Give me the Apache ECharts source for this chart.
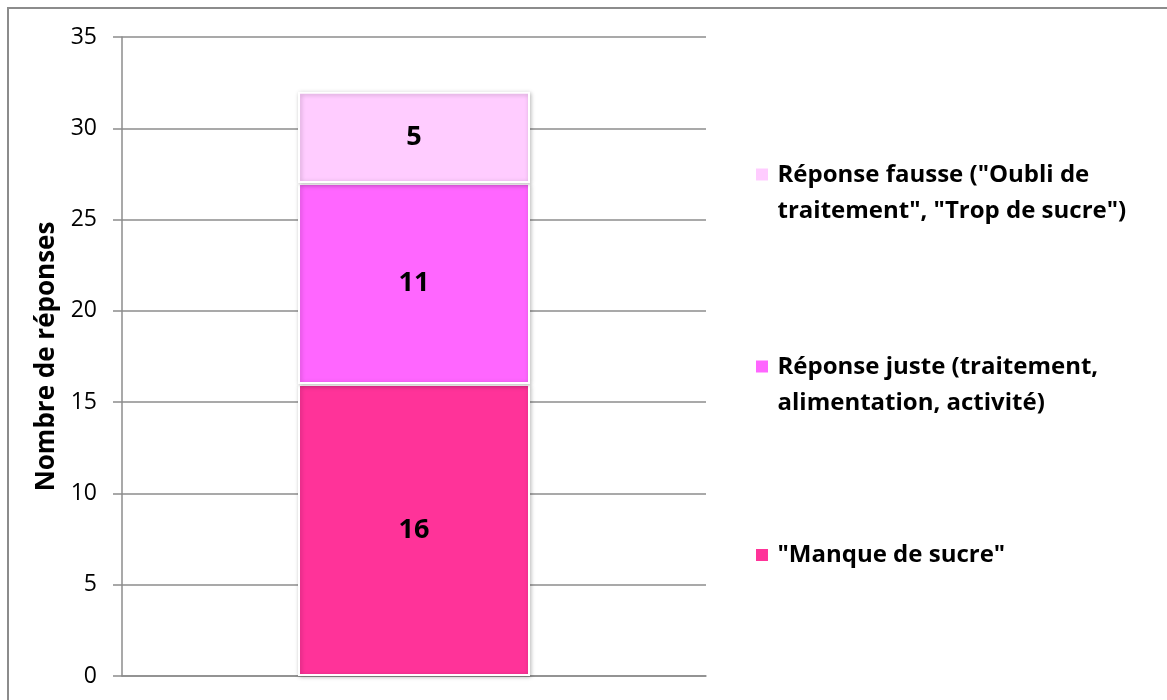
<!DOCTYPE html>
<html>
<head>
<meta charset="utf-8">
<script src="https://cdn.jsdelivr.net/npm/echarts@6/dist/echarts.min.js"></script>
<style>
  html, body { margin: 0; padding: 0; background: #fff; }
  #frame { position: absolute; left: 7px; top: 7px; width: 1200px; height: 720px;
    border-left: 2px solid #8c8c8c; border-top: 2px solid #8c8c8c; box-sizing: border-box; }
  #chart { position: absolute; left: 0; top: 0; width: 1167px; height: 700px; }
</style>
</head>
<body>
<div id="frame"></div>
<div id="chart"></div>
<script>
// données
const categories = [''];
const seriesNames = ['"Manque de sucre"', 'Réponse juste (traitement,\nalimentation, activité)', 'Réponse fausse ("Oubli de\ntraitement", "Trop de sucre")'];
const manque = [16];
const juste = [11];
const fausse = [5];
const colors = ['#ff3399', '#ff66ff', '#ffccff'];
const yTicks = { min: 0, max: 35, interval: 5 };

const font = '"Open Sans", sans-serif';
const myChart = echarts.init(document.getElementById('chart'));

// icone carrée placée en haut de la boite (aligne le carré sur la 1re ligne)
const iconTop = 'path://M0,0.82h1v1h-1zM0,0M0,5.29';
const iconMid = 'path://M0,2.14h1v1h-1zM0,0M0,5.29';

function mkLegend(name, top, icon) {
  return {
    left: 754, top: top, orient: 'vertical', padding: 0,
    itemWidth: 15, itemHeight: 74, itemGap: 0,
    selectedMode: false,
    data: [{ name: name, icon: icon }],
    textStyle: { fontFamily: font, fontWeight: 'bold', fontSize: 24, color: '#000', lineHeight: 36, padding: [0, 0, 0, 3] }
  };
}

function mkSeries(name, data, color) {
  return {
    name: name, type: 'bar', stack: 'total', data: data, barWidth: 232,
    itemStyle: { color: color, borderColor: '#fff', borderWidth: 2,
      shadowColor: 'rgba(0,0,0,0.25)', shadowBlur: 4, shadowOffsetX: 1, shadowOffsetY: 1 },
    label: { show: true, position: 'inside', color: '#000', fontFamily: font, fontWeight: 'bold', fontSize: 27 }
  };
}

myChart.setOption({
  animation: false,
  grid: { left: 122, right: 461, top: 37, bottom: 24 },
  legend: [
    mkLegend(seriesNames[2], 155, iconTop),
    mkLegend(seriesNames[1], 347, iconTop),
    mkLegend(seriesNames[0], 517, iconMid)
  ],
  xAxis: {
    type: 'category', data: categories,
    axisLine: { show: true, lineStyle: { color: '#8c8c8c', width: 1.5 } },
    axisTick: { show: false },
    axisLabel: { show: false }
  },
  yAxis: {
    type: 'value', min: yTicks.min, max: yTicks.max, interval: yTicks.interval,
    name: 'Nombre de réponses', nameLocation: 'middle', nameRotate: 90, nameGap: 60,
    nameTextStyle: { fontFamily: font, fontWeight: 'bold', fontSize: 26, color: '#000' },
    axisLine: { show: true, lineStyle: { color: '#8c8c8c', width: 1.5 } },
    axisTick: { show: true, length: 9, lineStyle: { color: '#8c8c8c', width: 1.5 } },
    axisLabel: { margin: 25, fontFamily: font, fontSize: 23, color: '#000' },
    splitLine: { show: true, lineStyle: { color: '#8c8c8c', width: 1.5 } }
  },
  series: [
    mkSeries(seriesNames[0], manque, colors[0]),
    mkSeries(seriesNames[1], juste, colors[1]),
    mkSeries(seriesNames[2], fausse, colors[2])
  ]
});
</script>
</body>
</html>
